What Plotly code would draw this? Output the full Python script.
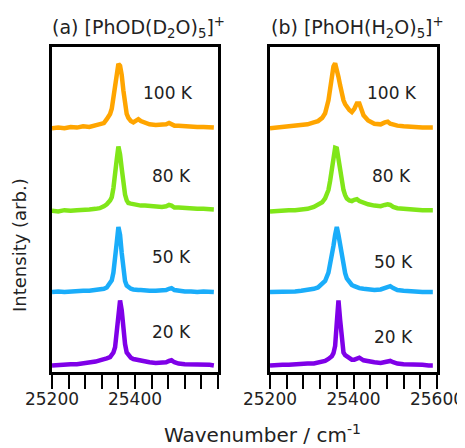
import plotly.graph_objects as go

# ---------------- data ----------------
wavenumber = [25200, 25215, 25230, 25245, 25260, 25275, 25290, 25305, 25315, 25325,
              25332, 25340, 25344, 25348, 25352, 25356, 25360, 25364, 25368, 25372,
              25376, 25380, 25384, 25390, 25396, 25402, 25408, 25414, 25424, 25435,
              25450, 25465, 25475, 25482, 25488, 25495, 25505, 25520, 25535, 25550,
              25565, 25580, 25590]

temperatures = ["100 K", "80 K", "50 K", "20 K"]
stack_offsets = [3.75, 2.47, 1.23, 0.10]

# (a) [PhOD(D2O)5]+
a_100K = [0.00, 0.01, 0.00, 0.02, 0.01, 0.03, 0.02, 0.04, 0.05, 0.08,
          0.14, 0.22, 0.30, 0.50, 0.70, 0.86, 0.99, 0.96, 0.82, 0.58,
          0.34, 0.22, 0.16, 0.11, 0.09, 0.11, 0.14, 0.11, 0.08, 0.06,
          0.05, 0.05, 0.06, 0.08, 0.06, 0.04, 0.04, 0.03, 0.03, 0.02,
          0.02, 0.02, 0.01]
a_80K = [0.01, 0.00, 0.02, 0.01, 0.02, 0.02, 0.03, 0.04, 0.05, 0.08,
         0.11, 0.17, 0.22, 0.36, 0.53, 0.80, 1.00, 0.88, 0.66, 0.43,
         0.26, 0.17, 0.13, 0.12, 0.11, 0.10, 0.10, 0.09, 0.09, 0.08,
         0.07, 0.07, 0.08, 0.10, 0.09, 0.06, 0.06, 0.05, 0.05, 0.04,
         0.04, 0.03, 0.03]
a_50K = [0.00, 0.01, 0.00, 0.01, 0.01, 0.02, 0.02, 0.03, 0.04, 0.05,
         0.07, 0.13, 0.18, 0.30, 0.49, 0.76, 1.00, 0.88, 0.60, 0.33,
         0.17, 0.10, 0.07, 0.05, 0.04, 0.03, 0.03, 0.03, 0.02, 0.02,
         0.02, 0.02, 0.03, 0.05, 0.06, 0.03, 0.02, 0.01, 0.01, 0.00,
         0.01, 0.00, 0.00]
a_20K = [0.00, 0.01, 0.01, 0.02, 0.02, 0.03, 0.05, 0.06, 0.08, 0.09,
         0.11, 0.13, 0.17, 0.20, 0.28, 0.49, 0.80, 1.00, 0.85, 0.55,
         0.33, 0.20, 0.16, 0.12, 0.10, 0.09, 0.08, 0.08, 0.06, 0.05,
         0.04, 0.04, 0.05, 0.07, 0.08, 0.05, 0.03, 0.02, 0.02, 0.01,
         0.01, 0.01, 0.00]

# (b) [PhOH(H2O)5]+
b_100K = [0.00, 0.01, 0.01, 0.02, 0.03, 0.04, 0.06, 0.09, 0.11, 0.16,
          0.23, 0.43, 0.62, 0.80, 0.95, 1.00, 0.92, 0.79, 0.66, 0.53,
          0.43, 0.37, 0.33, 0.28, 0.25, 0.30, 0.38, 0.38, 0.20, 0.12,
          0.07, 0.06, 0.09, 0.10, 0.07, 0.05, 0.04, 0.03, 0.02, 0.02,
          0.01, 0.01, 0.01]
b_80K = [0.00, 0.01, 0.01, 0.02, 0.02, 0.03, 0.04, 0.07, 0.10, 0.14,
         0.20, 0.33, 0.47, 0.64, 0.84, 0.98, 0.97, 0.80, 0.64, 0.46,
         0.33, 0.25, 0.20, 0.17, 0.16, 0.18, 0.19, 0.16, 0.13, 0.11,
         0.09, 0.08, 0.10, 0.11, 0.10, 0.07, 0.05, 0.04, 0.03, 0.03,
         0.02, 0.02, 0.02]
b_50K = [0.00, 0.00, 0.01, 0.01, 0.01, 0.02, 0.03, 0.05, 0.07, 0.12,
         0.17, 0.30, 0.42, 0.56, 0.71, 0.88, 1.00, 0.88, 0.71, 0.52,
         0.40, 0.29, 0.21, 0.15, 0.11, 0.09, 0.07, 0.06, 0.05, 0.04,
         0.03, 0.04, 0.06, 0.08, 0.09, 0.06, 0.03, 0.02, 0.01, 0.01,
         0.00, 0.00, 0.00]
b_20K = [0.00, 0.01, 0.01, 0.01, 0.02, 0.02, 0.03, 0.03, 0.04, 0.05,
         0.07, 0.10, 0.12, 0.14, 0.19, 0.30, 0.66, 1.00, 0.70, 0.34,
         0.20, 0.16, 0.14, 0.11, 0.09, 0.09, 0.11, 0.12, 0.08, 0.06,
         0.05, 0.04, 0.05, 0.06, 0.07, 0.05, 0.03, 0.02, 0.02, 0.01,
         0.01, 0.00, 0.00]

panel_a = [a_100K, a_80K, a_50K, a_20K]
panel_b = [b_100K, b_80K, b_50K, b_20K]

tick_values = list(range(25200, 25601, 40))
tick_labels_a = ["25200", "", "", "", "", "25400", "", "", "", "", ""]
tick_labels_b = ["25200", "", "", "", "", "25400", "", "", "", "", "25600"]

# ---------------- style ----------------
colors = ["#FFA500", "#80E619", "#1AADFA", "#7F00E8"]
FONT = "DejaVu Sans"
TXT = "#222222"
W, H = 465, 448
PAGE_OFF = 8  # default body margin of the html page


def fx(px):
    return (px - PAGE_OFF) / W


def fy(py):
    return 1 - (py - PAGE_OFF) / H


fig = go.Figure()
for panel, xa, ya in [(panel_a, "x", "y"), (panel_b, "x2", "y2")]:
    for spec, off, col in zip(panel, stack_offsets, colors):
        fig.add_trace(go.Scatter(
            x=wavenumber, y=[v + off for v in spec], mode="lines",
            line=dict(color=col, width=4.5), xaxis=xa, yaxis=ya,
            showlegend=False, hoverinfo="skip"))

axis_common = dict(range=[25200, 25600], tickvals=tick_values, ticks="outside",
                   ticklen=14, tickwidth=2, tickcolor="black", showline=True,
                   linecolor="black", linewidth=2.5, mirror=True, showgrid=False,
                   zeroline=False, automargin=False, ticklabelstandoff=-4,
                   tickfont=dict(family=FONT, size=17, color=TXT))
yaxis_common = dict(range=[0, 5], showticklabels=False, ticks="", showline=True,
                    linecolor="black", linewidth=2.5, mirror=True, showgrid=False,
                    zeroline=False, automargin=False, domain=[fy(372), fy(47)])

fig.update_layout(
    width=W, height=H, autosize=False, margin=dict(l=0, r=0, t=0, b=0, pad=0),
    paper_bgcolor="white", plot_bgcolor="white",
    xaxis=dict(domain=[fx(52), fx(218)], ticktext=tick_labels_a, **axis_common),
    xaxis2=dict(domain=[fx(270), fx(437)], ticktext=tick_labels_b, anchor="y2", **axis_common),
    yaxis=dict(anchor="x", **yaxis_common),
    yaxis2=dict(anchor="x2", **yaxis_common),
)

ann = []
label_pos_a = [(25480, 4.29), (25489, 3.02), (25489, 1.77), (25487, 0.62)]
label_pos_b = [(25492, 4.29), (25492, 3.02), (25495, 1.69), (25495, 0.54)]
for t, (x, y) in zip(temperatures, label_pos_a):
    ann.append(dict(x=x, y=y, xref="x", yref="y", text=t, showarrow=False,
                    xanchor="center", yanchor="middle",
                    font=dict(family=FONT, size=17, color=TXT)))
for t, (x, y) in zip(temperatures, label_pos_b):
    ann.append(dict(x=x, y=y, xref="x2", yref="y2", text=t, showarrow=False,
                    xanchor="center", yanchor="middle",
                    font=dict(family=FONT, size=17, color=TXT)))

ann.append(dict(x=fx(50), y=fy(28), xref="paper", yref="paper", xanchor="left",
                yanchor="middle", showarrow=False,
                text="(a) [PhOD(D<sub>2</sub>O)<sub>5</sub>]<sup>+</sup>",
                font=dict(family=FONT, size=19, color=TXT)))
ann.append(dict(x=fx(269), y=fy(28), xref="paper", yref="paper", xanchor="left",
                yanchor="middle", showarrow=False,
                text="(b) [PhOH(H<sub>2</sub>O)<sub>5</sub>]<sup>+</sup>",
                font=dict(family=FONT, size=19, color=TXT)))
ann.append(dict(x=fx(263), y=fy(434), xref="paper", yref="paper",
                xanchor="center", yanchor="middle",
                showarrow=False, text="Wavenumber / cm<sup>-1</sup>",
                font=dict(family=FONT, size=20, color=TXT)))
ann.append(dict(x=fx(20), y=fy(245), xref="paper", yref="paper",
                xanchor="center", yanchor="middle",
                showarrow=False, text="Intensity (arb.)", textangle=-90,
                font=dict(family=FONT, size=18, color=TXT)))
fig.update_layout(annotations=ann)

fig.write_html("out.html")
